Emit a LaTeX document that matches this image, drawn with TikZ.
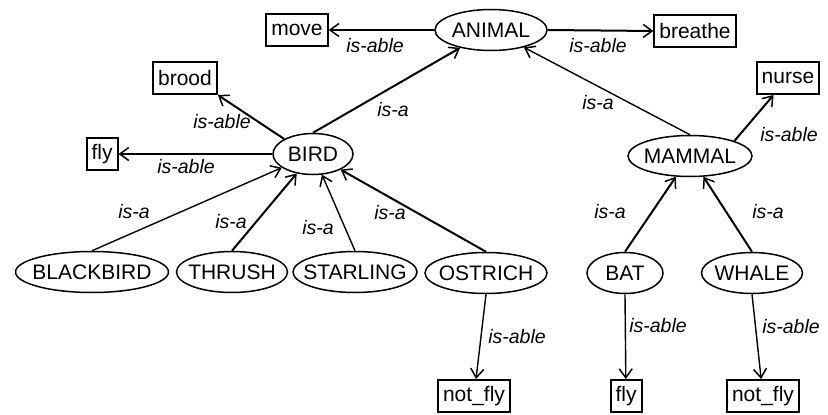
\documentclass[tikz,border=0pt]{standalone}
\usepackage{fontspec}
\setmainfont{Liberation Sans}
\usetikzlibrary{shapes.geometric,arrows.meta}
\begin{document}
\begin{tikzpicture}[x=1pt,y=-1pt,
  every node/.style={font=\fontsize{21}{25}\selectfont},
  concept/.style={ellipse,draw,line width=1.5pt,inner sep=0pt,minimum height=41},
  feature/.style={rectangle,draw,line width=2pt,inner xsep=5pt,inner ysep=0pt,minimum height=32},
  rel/.style={font=\fontsize{19.5}{23}\selectfont\itshape},
  link/.style={line width=1.4pt,-{Straight Barb[length=9pt,width=13pt,line width=1.5pt]}},
  heavy/.style={link,line width=2pt},
  every label/.style={font=\fontsize{21}{25}\selectfont,inner sep=0pt}]
\useasboundingbox (0,0) rectangle (828,415);

% concepts
\node[concept,minimum width=112,label=center:ANIMAL] (animal) at (491,30) {};
\node[concept,minimum width=80,label=center:BIRD] (bird) at (313,154) {};
\node[concept,minimum width=124,label=center:MAMMAL] (mammal) at (690,156) {};
\node[concept,minimum width=153,label=center:BLACKBIRD] (blackbird) at (92,272) {};
\node[concept,minimum width=111,label=center:THRUSH] (thrush) at (232,272) {};
\node[concept,minimum width=124,label=center:STARLING] (starling) at (355,272) {};
\node[concept,minimum width=122,label=center:OSTRICH] (ostrich) at (486,273) {};
\node[concept,minimum width=76,label=center:BAT] (bat) at (625,273) {};
\node[concept,minimum width=101,label=center:WHALE] (whale) at (752,273) {};

% abilities
\node[feature] (move) at (297,30) {move};
\node[feature] (breathe) at (695,31) {breathe};
\node[feature] (brood) at (185,78) {brood};
\node[feature] (flyb) at (102,154) {fly};
\node[feature] (nurse) at (788,78) {nurse};
\node[feature] (notflyo) at (474,396) {not\_fly};
\node[feature] (flyc) at (626,396) {fly};
\node[feature] (notflyw) at (763,396) {not\_fly};

% relations
\draw[link] (animal.west) -- (move.east);
\draw[heavy] (animal.east) -- (breathe.west);
\draw[heavy] (bird.north) -- (animal);
\draw[link] (mammal.north) -- (animal);
\draw[heavy] (bird.north west) -- (brood.south east);
\draw[link] (bird.west) -- (flyb.east);
\draw[heavy] (mammal.north east) -- (nurse);
\draw[link] (blackbird.north) -- (bird);
\draw[heavy] (thrush.north) -- (bird);
\draw[link] (starling.north) -- (bird);
\draw[heavy] (ostrich.north) -- (bird);
\draw[heavy] (bat.north) -- (mammal);
\draw[heavy] (whale.north) -- (mammal);
\draw[link] (ostrich.south) -- (notflyo);
\draw[link] (bat.south) -- (flyc);
\draw[link] (whale.south) -- (notflyw);

% relation labels
\node[rel] (l1) at (375,46) {is-able};
\node[rel] (l2) at (598,46) {is-able};
\node[rel] (l3) at (393,110) {is-a};
\node[rel] (l4) at (598,103) {is-a};
\node[rel] (l5) at (222,122) {is-able};
\node[rel] (l6) at (186,167) {is-able};
\node[rel] (l7) at (789,135) {is-able};
\node[rel] (l8) at (134,212) {is-a};
\node[rel] (l9) at (231,222) {is-a};
\node[rel] (l10) at (318,228) {is-a};
\node[rel] (l11) at (390,213) {is-a};
\node[rel] (l12) at (610,212) {is-a};
\node[rel] (l13) at (768,212) {is-a};
\node[rel] (l14) at (517,337) {is-able};
\node[rel] (l15) at (658,326) {is-able};
\node[rel] (l16) at (791,327) {is-able};
\end{tikzpicture}
\end{document}
